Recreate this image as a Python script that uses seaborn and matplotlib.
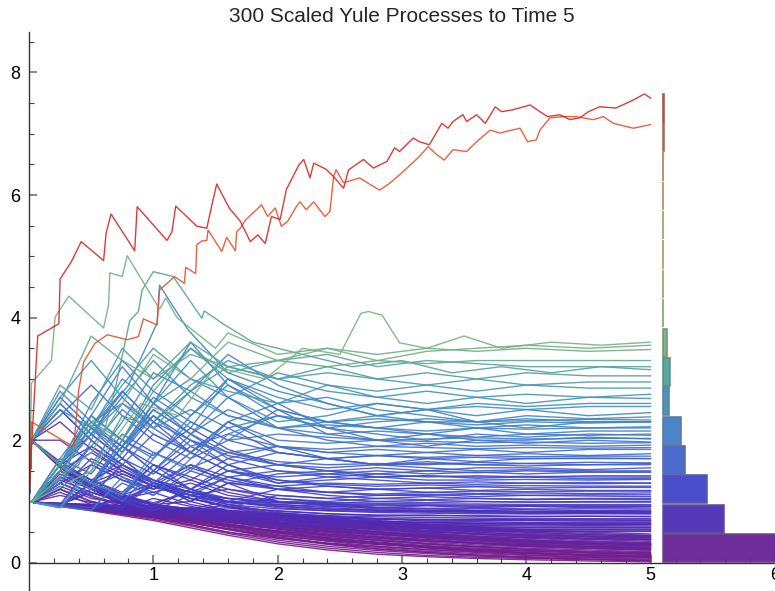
import numpy as np
import pandas as pd
import matplotlib
matplotlib.use("Agg")
import matplotlib.pyplot as plt
import seaborn as sns
from matplotlib.colors import LinearSegmentedColormap, Normalize, to_rgb

title = "300 Scaled Yule Processes to Time 5"

# sample times for the bulk of the paths
t_grid = [0, 0.02, 0.25, 0.5, 0.75, 1.0, 1.3, 1.6, 2.0, 2.4, 2.8, 3.2, 3.6, 4.0, 4.5, 5.0]

red_path = [(0, 1), (0.02, 1.87), (0.07, 3.70), (0.24, 3.90), (0.25, 4.63), (0.34, 4.91), (0.42, 5.24),
            (0.60, 4.93), (0.62, 5.38), (0.66, 5.69), (0.85, 5.09), (0.87, 5.81), (1.11, 5.26), (1.15, 5.40),
            (1.18, 5.82), (1.35, 5.49), (1.43, 5.46), (1.48, 5.92), (1.51, 6.18), (1.61, 5.79), (1.70, 5.57),
            (1.78, 5.24), (1.84, 5.35), (1.90, 5.21), (1.95, 5.65), (2.02, 5.60), (2.07, 6.09), (2.11, 6.25),
            (2.17, 6.49), (2.21, 6.58), (2.26, 6.28), (2.29, 6.52), (2.39, 6.42), (2.45, 6.30), (2.53, 6.11),
            (2.57, 6.41), (2.69, 6.58), (2.77, 6.44), (2.88, 6.55), (2.94, 6.77), (2.98, 6.71), (3.09, 6.93),
            (3.14, 6.87), (3.22, 6.82), (3.32, 7.17), (3.37, 7.09), (3.41, 7.20), (3.49, 7.31), (3.52, 7.20),
            (3.60, 7.31), (3.67, 7.17), (3.75, 7.44), (3.80, 7.36), (3.89, 7.39), (4.03, 7.47), (4.11, 7.36),
            (4.17, 7.28), (4.27, 7.31), (4.35, 7.23), (4.43, 7.26), (4.50, 7.36), (4.59, 7.44), (4.72, 7.42),
            (4.86, 7.55), (4.95, 7.65), (5.0, 7.58)]
orange_path = [(0, 1), (0.02, 2.3), (0.36, 1.89), (0.40, 2.82), (0.44, 3.28), (0.53, 3.58), (0.63, 3.72),
               (0.79, 3.64), (0.88, 3.69), (0.92, 3.98), (1.03, 3.88), (1.05, 4.45), (1.17, 4.67), (1.25, 4.56),
               (1.26, 4.82), (1.34, 4.72), (1.35, 5.19), (1.39, 5.25), (1.43, 5.26), (1.44, 5.43), (1.55, 5.08),
               (1.59, 5.31), (1.66, 5.09), (1.67, 5.40), (1.70, 5.46), (1.74, 5.59), (1.87, 5.84), (1.92, 5.65),
               (1.98, 5.79), (2.03, 5.49), (2.08, 5.57), (2.15, 5.81), (2.18, 5.89), (2.23, 5.76), (2.29, 5.89),
               (2.38, 5.65), (2.42, 5.73), (2.45, 6.30), (2.47, 6.41), (2.53, 6.20), (2.66, 6.28), (2.73, 6.19),
               (2.82, 6.08), (2.90, 6.19), (2.98, 6.33), (3.04, 6.44), (3.14, 6.63), (3.21, 6.79), (3.28, 6.66),
               (3.34, 6.57), (3.41, 6.74), (3.52, 6.71), (3.60, 6.87), (3.71, 7.06), (3.79, 7.01), (3.84, 7.04),
               (3.95, 7.09), (4.01, 6.87), (4.08, 6.90), (4.11, 7.06), (4.19, 7.26), (4.30, 7.28), (4.40, 7.28),
               (4.54, 7.23), (4.62, 7.28), (4.70, 7.17), (4.86, 7.09), (5.0, 7.15)]

# a few distinctive peaked paths, also as vertices
peaked_paths = [
    [(0, 1), (0.02, 2.93), (0.18, 3.30), (0.21, 4.01), (0.32, 4.35), (0.60, 3.83), (0.64, 4.21), (0.65, 4.73),
     (0.75, 4.67), (0.79, 5.01), (1.05, 4.14), (1.10, 4.32), (1.19, 4.0), (1.5, 3.5), (1.6, 3.75), (2.0, 3.4),
     (2.4, 3.5), (2.8, 3.3), (3.2, 3.45), (3.6, 3.5), (4.0, 3.55), (4.5, 3.5), (5.0, 3.55)],
    [(0, 1), (0.02, 0.99), (0.5, 1.5), (0.9, 2.6), (1.2, 2.4), (1.5, 3.2), (1.9, 3.0), (2.2, 3.5), (2.5, 3.4),
     (2.67, 4.07), (2.73, 4.10), (2.84, 4.04), (2.98, 3.59), (3.2, 3.5), (3.5, 3.7), (3.8, 3.5), (4.2, 3.6),
     (4.6, 3.55), (5.0, 3.6)],
    [(0, 1), (0.02, 2.0), (0.3, 1.5), (0.45, 2.3), (0.6, 2.1), (0.7, 2.9), (0.81, 3.95), (0.88, 4.10),
     (0.91, 4.45), (1.0, 4.75), (1.16, 4.67), (1.39, 3.99), (1.41, 4.11), (1.56, 3.90), (1.8, 3.6), (2.2, 3.4),
     (2.6, 3.2), (3.0, 3.3), (3.4, 3.1), (3.8, 3.2), (4.2, 3.1), (4.6, 3.2), (5.0, 3.15)],
    [(0, 1), (0.02, 0.99), (0.4, 1.6), (0.6, 2.4), (0.8, 2.9), (1.03, 3.91), (1.05, 4.53), (1.28, 3.80),
     (1.6, 3.1), (2.0, 2.8), (2.4, 2.6), (2.8, 2.4), (3.2, 2.5), (3.6, 2.3), (4.0, 2.35), (4.5, 2.3), (5.0, 2.3)],
]

# values on t_grid, grouped by where the path ends
green_paths = [
    [1, 2.0, 2.6, 3.7, 3.3, 3.0, 3.4, 3.2, 3.3, 3.2, 3.3, 3.25, 3.3, 3.3, 3.3, 3.3],
    [1, 0.99, 1.6, 2.3, 2.0, 2.8, 3.5, 3.1, 3.3, 3.4, 3.2, 3.3, 3.25, 3.2, 3.2, 3.2],
    [1, 2.0, 2.9, 2.5, 3.5, 3.0, 3.6, 3.2, 3.0, 3.2, 3.0, 3.1, 3.0, 3.1, 3.05, 3.05],
    [1, 0.99, 0.9, 1.5, 2.4, 2.2, 2.8, 3.2, 3.0, 3.1, 3.0, 2.9, 3.0, 2.9, 2.95, 2.95],
    [1, 2.0, 1.6, 2.2, 2.9, 3.5, 3.0, 2.8, 2.6, 2.9, 2.8, 2.9, 2.8, 2.9, 2.85, 2.85],
    [1, 0.99, 1.5, 2.1, 2.6, 2.3, 2.9, 3.3, 3.0, 2.8, 2.7, 2.8, 2.7, 2.75, 2.7, 2.75],
    [1, 2.0, 2.5, 2.2, 3.0, 2.6, 3.0, 2.7, 3.1, 2.9, 2.7, 2.6, 2.7, 2.6, 2.7, 2.68],
    [1, 0.99, 1.4, 1.8, 2.6, 3.4, 3.0, 3.6, 3.3, 3.5, 3.4, 3.5, 3.45, 3.5, 3.45, 3.48],
]
teal_paths = [
    [1, 0.99, 1.7, 2.4, 2.0, 2.9, 3.5, 3.0, 2.7, 2.5, 2.6, 2.5, 2.4, 2.5, 2.4, 2.45],
    [1, 2.0, 1.6, 1.3, 1.9, 2.6, 2.2, 3.0, 2.6, 2.7, 2.5, 2.4, 2.3, 2.4, 2.35, 2.38],
    [1, 0.99, 0.9, 1.6, 2.3, 3.1, 2.8, 3.4, 2.9, 2.6, 2.4, 2.3, 2.3, 2.2, 2.3, 2.3],
    [1, 2.0, 2.8, 2.3, 2.6, 2.2, 2.5, 2.2, 2.4, 2.3, 2.2, 2.3, 2.2, 2.25, 2.2, 2.22],
    [1, 0.99, 1.6, 1.3, 2.0, 1.7, 2.4, 3.0, 2.5, 2.3, 2.2, 2.1, 2.2, 2.1, 2.15, 2.15],
    [1, 2.0, 1.6, 2.4, 3.2, 2.6, 3.6, 2.9, 2.4, 2.2, 2.1, 2.0, 2.1, 2.05, 2.1, 2.08],
    [1, 0.99, 0.92, 0.85, 1.4, 1.1, 1.7, 2.3, 2.6, 2.2, 2.0, 2.1, 2.0, 2.0, 2.05, 2.02],
    [1, 2.0, 1.6, 1.3, 1.1, 1.7, 2.3, 2.0, 2.5, 2.1, 2.0, 1.9, 2.0, 1.95, 2.0, 1.97],
    [1, 0.99, 1.6, 2.3, 1.9, 2.5, 2.1, 2.7, 2.2, 2.0, 1.9, 1.95, 1.9, 1.92, 1.9, 1.92],
    [1, 2.0, 2.7, 3.3, 2.7, 3.3, 2.7, 2.4, 2.2, 2.3, 2.4, 2.5, 2.6, 2.55, 2.6, 2.6],
    [1, 0.99, 1.5, 1.2, 1.8, 2.6, 3.3, 2.7, 2.3, 2.4, 2.6, 2.5, 2.55, 2.5, 2.55, 2.55],
    [1, 2.0, 1.6, 2.6, 3.3, 2.8, 2.4, 2.9, 2.5, 2.3, 2.35, 2.3, 2.25, 2.3, 2.28, 2.3],
    [1, 0.99, 1.5, 2.2, 1.8, 2.5, 2.1, 2.5, 2.2, 2.1, 2.15, 2.1, 2.05, 2.1, 2.08, 2.1],
    [1, 2.0, 2.6, 2.1, 2.8, 2.3, 2.8, 2.4, 2.2, 2.25, 2.2, 2.15, 2.2, 2.18, 2.2, 2.2],
    [1, 0.99, 1.3, 1.9, 2.5, 2.1, 1.8, 2.3, 2.0, 1.95, 2.0, 1.98, 1.96, 1.97, 1.95, 1.96],
    [1, 0.99, 1.6, 1.3, 1.1, 1.8, 1.5, 2.1, 2.4, 2.2, 2.3, 2.35, 2.3, 2.32, 2.34, 2.33],
    [1, 2.0, 1.6, 1.3, 2.0, 2.7, 2.3, 2.0, 2.1, 2.05, 2.0, 2.02, 2.04, 2.02, 2.03, 2.03],
]
blue_paths = [
    [1, 2.0, 1.6, 2.3, 1.8, 2.4, 1.9, 2.1, 1.9, 1.8, 1.85, 1.8, 1.85, 1.8, 1.85, 1.85],
    [1, 0.99, 1.6, 1.3, 1.9, 1.5, 2.1, 1.7, 1.9, 1.8, 1.75, 1.8, 1.75, 1.78, 1.75, 1.78],
    [1, 2.0, 1.6, 1.3, 1.9, 2.6, 2.1, 1.8, 1.6, 1.7, 1.6, 1.7, 1.65, 1.7, 1.7, 1.7],
    [1, 0.99, 0.9, 1.3, 1.0, 1.5, 2.0, 1.6, 1.8, 1.7, 1.6, 1.65, 1.6, 1.62, 1.6, 1.62],
    [1, 2.0, 2.5, 2.0, 1.6, 1.3, 1.8, 1.5, 1.6, 1.5, 1.55, 1.5, 1.55, 1.55, 1.52, 1.55],
    [1, 0.99, 1.5, 2.1, 1.7, 1.3, 1.1, 1.4, 1.5, 1.45, 1.5, 1.45, 1.48, 1.45, 1.48, 1.48],
    [1, 2.0, 1.6, 1.3, 1.1, 1.5, 1.2, 1.6, 1.3, 1.4, 1.45, 1.4, 1.42, 1.4, 1.42, 1.42],
    [1, 0.99, 0.92, 0.86, 1.1, 1.6, 1.2, 1.5, 1.3, 1.35, 1.4, 1.35, 1.35, 1.36, 1.35, 1.36],
    [1, 2.0, 1.6, 2.1, 1.7, 1.3, 1.6, 1.3, 1.25, 1.3, 1.28, 1.3, 1.28, 1.3, 1.29, 1.3],
    [1, 0.99, 1.5, 1.2, 1.0, 1.3, 1.0, 1.3, 1.2, 1.25, 1.2, 1.22, 1.24, 1.22, 1.23, 1.23],
    [1, 2.0, 1.6, 1.3, 1.9, 1.5, 1.2, 1.0, 1.2, 1.15, 1.2, 1.15, 1.17, 1.16, 1.17, 1.17],
    [1, 0.99, 0.92, 1.3, 1.0, 0.85, 1.1, 0.9, 1.1, 1.05, 1.1, 1.1, 1.12, 1.1, 1.11, 1.11],
    [1, 2.0, 1.6, 1.3, 1.05, 0.9, 1.2, 0.95, 1.05, 1.0, 1.05, 1.03, 1.05, 1.04, 1.05, 1.05],
    [1, 0.99, 1.4, 1.1, 1.6, 1.3, 1.0, 1.3, 1.0, 0.97, 1.0, 0.98, 1.0, 0.99, 1.0, 1.0],
    [1, 2.0, 2.6, 2.1, 2.7, 2.2, 1.8, 2.2, 1.8, 1.7, 1.75, 1.72, 1.75, 1.73, 1.74, 1.74],
    [1, 0.99, 1.6, 2.2, 1.7, 2.3, 1.8, 1.5, 1.4, 1.45, 1.4, 1.42, 1.4, 1.41, 1.4, 1.4],
    [1, 0.99, 1.6, 2.4, 2.0, 1.75, 2.2, 1.85, 1.6, 1.5, 1.4, 1.42, 1.38, 1.4, 1.37, 1.38],
    [1, 2.0, 2.7, 2.2, 1.9, 2.4, 2.0, 1.75, 1.6, 1.55, 1.6, 1.55, 1.5, 1.52, 1.5, 1.5],
    [1, 0.99, 1.3, 1.1, 1.6, 2.1, 1.8, 2.3, 1.9, 1.7, 1.6, 1.62, 1.6, 1.58, 1.6, 1.6],
    [1, 2.0, 1.6, 1.3, 1.7, 1.45, 1.9, 1.6, 1.35, 1.25, 1.2, 1.22, 1.18, 1.2, 1.18, 1.18],
    [1, 0.99, 0.95, 1.6, 1.35, 1.2, 1.55, 1.35, 1.2, 1.15, 1.1, 1.12, 1.08, 1.1, 1.09, 1.08],
    [1, 0.99, 1.5, 1.25, 1.9, 1.6, 1.35, 1.7, 1.5, 1.4, 1.35, 1.3, 1.32, 1.3, 1.31, 1.3],
    [1, 2.0, 2.4, 2.9, 2.4, 2.0, 1.7, 2.0, 1.8, 1.7, 1.75, 1.7, 1.72, 1.7, 1.71, 1.7],
    [1, 0.99, 1.2, 1.0, 0.9, 1.3, 1.15, 1.4, 1.2, 1.1, 1.05, 1.08, 1.05, 1.03, 1.04, 1.03],
    [1, 2.0, 1.6, 2.2, 2.8, 2.3, 2.0, 1.8, 1.9, 1.85, 1.9, 1.88, 1.86, 1.88, 1.87, 1.88],
    [1, 0.99, 1.4, 1.9, 1.6, 1.35, 1.2, 1.5, 1.35, 1.28, 1.25, 1.27, 1.25, 1.26, 1.25, 1.25],
    [1, 0.99, 0.95, 0.9, 1.3, 1.1, 1.5, 1.3, 1.45, 1.5, 1.45, 1.5, 1.47, 1.5, 1.48, 1.48],
    [1, 2.0, 1.6, 1.35, 1.15, 1.6, 1.4, 1.2, 1.1, 1.05, 1.0, 1.02, 1.0, 0.99, 0.99, 0.99],
    [1, 0.99, 1.7, 1.45, 2.1, 1.8, 1.55, 1.8, 1.65, 1.6, 1.62, 1.6, 1.64, 1.62, 1.64, 1.63],
    [1, 0.99, 1.2, 1.7, 1.45, 1.25, 1.6, 1.4, 1.25, 1.15, 1.12, 1.15, 1.13, 1.14, 1.13, 1.14],
]
indigo_paths = [
    [1, 0.99, 0.94, 1.2, 1.05, 1.25, 1.1, 1.0, 0.98, 0.96, 0.95, 0.94, 0.94, 0.93, 0.93, 0.93],
    [1, 2.0, 1.6, 1.3, 1.1, 1.3, 1.1, 0.98, 0.95, 0.92, 0.9, 0.89, 0.89, 0.88, 0.88, 0.88],
    [1, 0.99, 0.95, 0.9, 1.1, 0.98, 1.15, 1.0, 0.93, 0.88, 0.86, 0.85, 0.85, 0.84, 0.84, 0.84],
    [1, 0.99, 1.4, 1.2, 1.05, 0.95, 0.88, 1.0, 0.9, 0.85, 0.82, 0.81, 0.8, 0.8, 0.8, 0.8],
    [1, 2.0, 1.6, 1.3, 1.1, 0.95, 0.84, 0.9, 0.85, 0.8, 0.78, 0.77, 0.77, 0.76, 0.76, 0.76],
    [1, 0.99, 0.95, 0.9, 0.85, 0.95, 0.88, 0.84, 0.8, 0.77, 0.75, 0.74, 0.73, 0.72, 0.72, 0.72],
    [1, 0.99, 0.95, 1.15, 1.0, 0.9, 0.82, 0.78, 0.76, 0.73, 0.71, 0.7, 0.69, 0.69, 0.68, 0.68],
    [1, 2.0, 1.6, 1.3, 1.1, 0.95, 1.0, 0.85, 0.75, 0.7, 0.68, 0.66, 0.65, 0.65, 0.64, 0.64],
    [1, 0.99, 0.94, 0.88, 0.82, 0.78, 0.82, 0.75, 0.7, 0.66, 0.64, 0.62, 0.61, 0.6, 0.6, 0.6],
    [1, 0.99, 1.35, 1.15, 1.0, 0.88, 0.78, 0.72, 0.67, 0.63, 0.6, 0.59, 0.58, 0.57, 0.57, 0.57],
    [1, 2.0, 1.6, 1.3, 1.1, 0.95, 0.82, 0.72, 0.64, 0.6, 0.57, 0.56, 0.55, 0.54, 0.54, 0.54],
    [1, 0.99, 0.94, 0.88, 0.83, 0.78, 0.72, 0.68, 0.62, 0.58, 0.55, 0.53, 0.52, 0.52, 0.51, 0.51],
    [1, 0.99, 1.5, 1.25, 1.45, 1.25, 1.1, 1.05, 1.0, 0.98, 0.97, 0.96, 0.96, 0.95, 0.95, 0.95],
    [1, 2.0, 2.5, 2.0, 1.6, 1.35, 1.1, 0.95, 0.88, 0.85, 0.84, 0.83, 0.83, 0.82, 0.82, 0.82],
    [1, 0.99, 0.95, 0.9, 1.05, 0.9, 0.8, 0.72, 0.7, 0.68, 0.66, 0.65, 0.64, 0.63, 0.63, 0.63],
    [1, 0.99, 1.5, 1.25, 1.05, 1.15, 0.95, 0.85, 0.78, 0.74, 0.72, 0.71, 0.7, 0.7, 0.7, 0.7],
    [1, 0.99, 1.3, 1.6, 1.35, 1.15, 1.3, 1.1, 1.0, 0.95, 0.9, 0.93, 0.9, 0.92, 0.9, 0.91],
    [1, 2.0, 1.6, 1.9, 1.55, 1.3, 1.1, 1.2, 1.05, 0.98, 0.9, 0.88, 0.86, 0.87, 0.85, 0.86],
    [1, 0.99, 0.95, 1.3, 1.1, 0.95, 1.2, 1.05, 0.95, 0.9, 0.86, 0.84, 0.82, 0.8, 0.81, 0.8],
    [1, 0.99, 1.45, 1.2, 1.0, 1.25, 1.05, 0.92, 0.84, 0.8, 0.77, 0.78, 0.76, 0.75, 0.76, 0.75],
    [1, 2.0, 2.3, 1.85, 1.5, 1.25, 1.05, 0.92, 0.8, 0.75, 0.72, 0.7, 0.71, 0.7, 0.7, 0.69],
    [1, 0.99, 0.94, 0.89, 1.1, 0.95, 0.85, 0.95, 0.82, 0.76, 0.72, 0.68, 0.67, 0.66, 0.66, 0.66],
    [1, 0.99, 1.2, 1.0, 0.9, 0.82, 0.9, 0.8, 0.72, 0.68, 0.64, 0.63, 0.62, 0.62, 0.61, 0.62],
    [1, 2.0, 1.6, 1.3, 1.5, 1.25, 1.05, 0.9, 0.78, 0.7, 0.65, 0.6, 0.59, 0.58, 0.58, 0.58],
    [1, 0.99, 0.95, 0.9, 0.86, 0.82, 0.78, 0.85, 0.75, 0.68, 0.62, 0.58, 0.56, 0.55, 0.55, 0.55],
    [1, 0.99, 1.5, 1.8, 1.5, 1.3, 1.15, 1.05, 0.98, 0.95, 0.93, 0.94, 0.92, 0.93, 0.92, 0.92],
    [1, 2.0, 1.6, 1.35, 1.6, 1.35, 1.15, 1.0, 0.92, 0.87, 0.85, 0.83, 0.84, 0.83, 0.82, 0.83],
    [1, 0.99, 0.95, 0.92, 0.88, 1.05, 0.92, 0.82, 0.74, 0.7, 0.68, 0.66, 0.64, 0.64, 0.63, 0.63],
    [1, 0.99, 1.3, 1.1, 0.95, 0.85, 0.78, 0.72, 0.7, 0.66, 0.6, 0.56, 0.53, 0.52, 0.52, 0.52],
    [1, 2.0, 2.0, 1.65, 1.4, 1.2, 1.35, 1.15, 1.0, 0.93, 0.88, 0.86, 0.85, 0.84, 0.84, 0.84],
]
purple_paths = [
    [1, 0.99, 0.92, 0.85, 0.77, 0.69, 0.57, 0.45, 0.31, 0.21, 0.14, 0.10, 0.07, 0.05, 0.03, 0.015],
    [1, 0.99, 0.93, 0.86, 0.79, 0.71, 0.6, 0.48, 0.34, 0.24, 0.17, 0.12, 0.09, 0.07, 0.05, 0.03],
    [1, 0.99, 0.93, 0.87, 0.8, 0.73, 0.62, 0.5, 0.37, 0.27, 0.2, 0.15, 0.11, 0.08, 0.06, 0.045],
    [1, 0.99, 0.94, 0.88, 0.82, 0.75, 0.65, 0.54, 0.4, 0.3, 0.22, 0.17, 0.13, 0.1, 0.08, 0.06],
    [1, 2.0, 1.6, 1.25, 0.98, 0.8, 0.66, 0.55, 0.42, 0.32, 0.25, 0.19, 0.15, 0.12, 0.09, 0.075],
    [1, 0.99, 0.94, 0.88, 0.82, 0.76, 0.68, 0.58, 0.45, 0.35, 0.27, 0.21, 0.17, 0.13, 0.1, 0.09],
    [1, 0.99, 0.95, 0.9, 0.85, 0.79, 0.7, 0.6, 0.46, 0.37, 0.3, 0.24, 0.19, 0.15, 0.12, 0.105],
    [1, 0.99, 0.93, 0.87, 0.98, 0.86, 0.72, 0.6, 0.48, 0.38, 0.31, 0.25, 0.2, 0.17, 0.14, 0.12],
    [1, 2.0, 1.56, 1.21, 0.95, 0.78, 0.68, 0.62, 0.5, 0.4, 0.33, 0.27, 0.22, 0.19, 0.16, 0.135],
    [1, 0.99, 0.95, 0.9, 0.85, 0.8, 0.73, 0.64, 0.5, 0.41, 0.34, 0.28, 0.24, 0.2, 0.17, 0.15],
    [1, 0.99, 1.2, 1.0, 0.88, 0.78, 0.68, 0.6, 0.52, 0.43, 0.36, 0.3, 0.26, 0.22, 0.19, 0.165],
    [1, 0.99, 0.95, 0.91, 0.86, 0.81, 0.74, 0.67, 0.55, 0.45, 0.38, 0.32, 0.27, 0.24, 0.21, 0.18],
    [1, 2.0, 1.56, 1.21, 0.95, 0.8, 0.72, 0.66, 0.56, 0.47, 0.4, 0.34, 0.29, 0.26, 0.23, 0.2],
    [1, 0.99, 0.95, 0.91, 0.87, 0.83, 0.76, 0.69, 0.58, 0.49, 0.42, 0.36, 0.31, 0.27, 0.24, 0.215],
    [1, 0.99, 0.94, 0.89, 1.05, 0.9, 0.78, 0.7, 0.6, 0.51, 0.44, 0.38, 0.33, 0.29, 0.26, 0.23],
    [1, 0.99, 0.96, 0.92, 0.88, 0.84, 0.78, 0.71, 0.6, 0.52, 0.46, 0.4, 0.35, 0.31, 0.27, 0.245],
    [1, 2.0, 1.6, 1.3, 1.05, 0.9, 0.8, 0.72, 0.62, 0.54, 0.47, 0.41, 0.36, 0.32, 0.29, 0.26],
    [1, 0.99, 0.95, 0.91, 0.87, 0.83, 0.8, 0.74, 0.64, 0.56, 0.49, 0.43, 0.38, 0.34, 0.3, 0.275],
    [1, 0.99, 1.3, 1.08, 0.92, 0.86, 0.8, 0.74, 0.66, 0.58, 0.51, 0.45, 0.4, 0.36, 0.32, 0.29],
    [1, 0.99, 0.96, 0.93, 0.89, 0.86, 0.82, 0.76, 0.67, 0.6, 0.53, 0.47, 0.42, 0.38, 0.34, 0.31],
    [1, 2.0, 1.56, 1.25, 1.02, 0.9, 0.84, 0.78, 0.7, 0.62, 0.55, 0.49, 0.44, 0.4, 0.36, 0.33],
    [1, 0.99, 0.96, 0.93, 0.9, 0.87, 0.84, 0.79, 0.71, 0.63, 0.57, 0.51, 0.46, 0.42, 0.38, 0.35],
    [1, 0.99, 0.95, 1.15, 0.98, 0.9, 0.86, 0.8, 0.72, 0.65, 0.59, 0.53, 0.48, 0.44, 0.4, 0.37],
    [1, 0.99, 0.96, 0.93, 0.91, 0.88, 0.85, 0.81, 0.74, 0.67, 0.61, 0.55, 0.5, 0.46, 0.42, 0.39],
    [1, 2.0, 1.6, 1.3, 1.1, 0.95, 0.88, 0.83, 0.76, 0.69, 0.63, 0.57, 0.52, 0.48, 0.44, 0.41],
    [1, 0.99, 0.97, 0.94, 0.92, 0.9, 0.87, 0.83, 0.77, 0.71, 0.65, 0.59, 0.54, 0.5, 0.46, 0.43],
    [1, 0.99, 1.25, 1.05, 0.97, 0.92, 0.88, 0.84, 0.79, 0.73, 0.67, 0.61, 0.56, 0.52, 0.48, 0.45],
    [1, 0.99, 0.97, 0.95, 0.93, 0.91, 0.89, 0.86, 0.81, 0.75, 0.69, 0.63, 0.58, 0.54, 0.5, 0.47],
    [1, 0.99, 0.93, 0.87, 0.8, 0.74, 0.66, 0.56, 0.44, 0.36, 0.3, 0.27, 0.22, 0.2, 0.16, 0.14],
    [1, 2.0, 1.56, 1.21, 0.95, 0.74, 0.62, 0.5, 0.4, 0.32, 0.27, 0.22, 0.18, 0.15, 0.12, 0.1],
    [1, 0.99, 0.94, 0.89, 0.84, 0.95, 0.8, 0.68, 0.56, 0.5, 0.42, 0.38, 0.33, 0.3, 0.27, 0.25],
    [1, 0.99, 0.96, 0.92, 0.88, 0.84, 0.79, 0.73, 0.63, 0.57, 0.5, 0.46, 0.43, 0.41, 0.39, 0.38],
    [1, 0.99, 1.15, 0.95, 0.85, 0.78, 0.7, 0.63, 0.55, 0.47, 0.42, 0.36, 0.32, 0.28, 0.25, 0.22],
    [1, 2.0, 1.6, 1.28, 1.05, 0.88, 0.75, 0.66, 0.58, 0.52, 0.46, 0.42, 0.38, 0.35, 0.33, 0.31],
    [1, 0.99, 0.94, 0.88, 0.83, 0.77, 0.7, 0.62, 0.5, 0.41, 0.33, 0.26, 0.21, 0.17, 0.13, 0.11],
    [1, 0.99, 0.95, 0.91, 0.87, 0.84, 0.8, 0.76, 0.7, 0.64, 0.58, 0.52, 0.47, 0.43, 0.4, 0.38],
    [1, 0.99, 0.93, 0.88, 0.82, 0.76, 0.69, 0.61, 0.52, 0.44, 0.37, 0.31, 0.26, 0.22, 0.18, 0.16],
    [1, 2.0, 1.6, 1.3, 1.08, 0.93, 0.82, 0.74, 0.66, 0.6, 0.55, 0.5, 0.47, 0.45, 0.43, 0.42],
    [1, 0.99, 0.95, 0.92, 0.9, 0.88, 0.86, 0.83, 0.78, 0.72, 0.66, 0.6, 0.54, 0.5, 0.46, 0.44],
    [1, 0.99, 0.94, 0.9, 0.86, 0.8, 0.72, 0.62, 0.49, 0.39, 0.31, 0.25, 0.2, 0.16, 0.12, 0.09],
    [1, 0.99, 1.1, 0.98, 0.9, 0.83, 0.75, 0.68, 0.6, 0.53, 0.47, 0.43, 0.39, 0.36, 0.34, 0.32],
    [1, 0.99, 0.95, 0.91, 0.87, 0.82, 0.75, 0.7, 0.62, 0.55, 0.48, 0.42, 0.37, 0.33, 0.3, 0.28],
    [1, 2.0, 1.56, 1.21, 0.96, 0.8, 0.7, 0.6, 0.52, 0.46, 0.4, 0.36, 0.32, 0.29, 0.26, 0.24],
    [1, 0.99, 0.96, 0.93, 0.9, 0.86, 0.82, 0.77, 0.69, 0.62, 0.55, 0.48, 0.42, 0.37, 0.33, 0.3],
    [1, 0.99, 0.93, 0.87, 0.81, 0.74, 0.65, 0.55, 0.42, 0.31, 0.23, 0.17, 0.12, 0.09, 0.06, 0.04],
    [1, 0.99, 0.97, 0.95, 0.93, 0.9, 0.87, 0.83, 0.77, 0.7, 0.63, 0.56, 0.5, 0.46, 0.43, 0.41],
    [1, 2.0, 1.65, 1.35, 1.12, 0.95, 0.84, 0.75, 0.65, 0.57, 0.5, 0.44, 0.39, 0.35, 0.31, 0.29],
    [1, 0.99, 0.95, 0.9, 0.86, 0.81, 0.76, 0.71, 0.64, 0.57, 0.51, 0.45, 0.4, 0.36, 0.32, 0.3],
]

# histogram of the values at time 5 (bins of equal width from 0)
bin_width = 0.479
bin_counts = [136, 61, 44, 22, 18, 6, 7, 4, 0, 0, 0, 0, 0, 0, 1, 1]

# Mathematica-like "Rainbow" gradient
rainbow = [(0.00, "#781c87"), (0.08, "#4f2bb3"), (0.16, "#3f45cc"), (0.26, "#4278cc"),
           (0.34, "#3f90bc"), (0.41, "#52a39a"), (0.47, "#78b27f"), (0.55, "#9ebf6b"),
           (0.65, "#c7bd54"), (0.75, "#e0a445"), (0.85, "#e87838"), (0.93, "#e5542e"),
           (1.00, "#d62121")]

cmap = LinearSegmentedColormap.from_list("rainbow_mm", rainbow)
vmax = bin_width * len(bin_counts)
norm = Normalize(0, vmax)

# long table of all the paths
rows = []
pid = 0
for group in [purple_paths, indigo_paths, blue_paths, teal_paths, green_paths]:
    for vals in group:
        for t, v in zip(t_grid, vals):
            rows.append((pid, t, v, vals[-1]))
        pid += 1
for verts in peaked_paths + [orange_path, red_path]:
    for t, v in verts:
        rows.append((pid, t, v, verts[-1][1]))
    pid += 1
df = pd.DataFrame(rows, columns=["path", "t", "value", "final"])

sns.set_theme(style="white")
plt.rcParams["font.family"] = ["Liberation Sans", "DejaVu Sans"]

fig = plt.figure(figsize=(7.75, 5.91), dpi=100)
ax = fig.add_axes([29 / 775, 0, 1 - 29 / 775, 1 - 32 / 591])

sns.lineplot(data=df, x="t", y="value", hue="final", units="path", estimator=None,
             palette=cmap, hue_norm=norm, linewidth=1.0, alpha=0.9, legend=False,
             sort=False, ax=ax)

# histogram on the right
edges = np.arange(len(bin_counts)) * bin_width
face = [cmap(norm(e + bin_width / 2)) for e in edges]
edge = [tuple(0.5 * np.array(c[:3]) + 0.5 * np.array(to_rgb("#707070"))) for c in face]
ax.barh(edges + 0.01, np.array(bin_counts) / 124.4, height=bin_width - 0.02, left=5.1,
        align="edge", color=face, edgecolor=edge, linewidth=1.2, alpha=0.95)

ax.set_xlim(0, 5.995)
ax.set_ylim(-0.46, 8.66)
ax.set_xlabel("")
ax.set_ylabel("")
ax.spines["top"].set_visible(False)
ax.spines["right"].set_visible(False)
ax.spines["bottom"].set_position(("data", 0))
for s in ["left", "bottom"]:
    ax.spines[s].set_color("#333333")
    ax.spines[s].set_linewidth(1.0)

ax.set_xticks([1, 2, 3, 4, 5, 6])
ax.set_xticklabels(["1", "2", "3", "4", "5", "6"])
ax.set_xticks(np.arange(0.2, 6.0, 0.2), minor=True)
ax.set_yticks([0, 2, 4, 6, 8])
ax.set_yticklabels(["0", "2", "4", "6", "8"])
ax.set_yticks(np.arange(0.5, 8.6, 0.5), minor=True)
ax.tick_params(which="major", direction="in", length=6, width=1.1, color="#666666",
               labelsize=13, labelcolor="black")
ax.tick_params(which="minor", direction="in", length=3.5, width=0.8, color="#444444")
ax.tick_params(axis="x", which="major", pad=3)
ax.tick_params(axis="y", which="major", pad=6)
ax.tick_params(bottom=True, left=True, which="both")

ax.set_title(title, fontsize=15, pad=7)

fig.savefig("out.png", dpi=100)
